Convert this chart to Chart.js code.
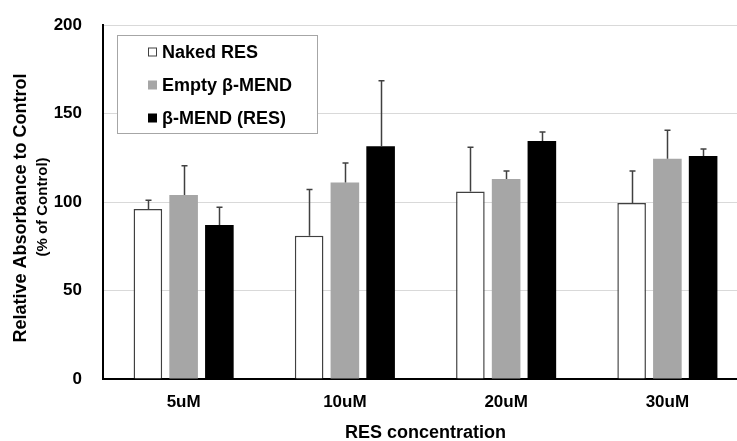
<!DOCTYPE html>
<html>
<head>
<meta charset="utf-8">
<script src="https://cdn.jsdelivr.net/npm/chart.js@4"></script>
<style>
  html, body { margin: 0; padding: 0; background: #fff; overflow: hidden; }
  #wrap { width: 737px; height: 441px; overflow: hidden; position: relative; }
  #box { width: 750px; height: 441px; position: absolute; left: 0; top: 0; }
</style>
</head>
<body>
<div id="wrap"><div id="box"><canvas id="chart"></canvas></div></div>
<script>
const categories = ["5uM", "10uM", "20uM", "30uM"];
const seriesNames = ["Naked RES", "Empty \u03b2-MEND", "\u03b2-MEND (RES)"];
const nakedRes = [96, 81, 106, 99.5];
const nakedResErr = [5, 26, 25, 18];
const emptyMend = [104, 111, 113, 124.5];
const emptyMendErr = [16.5, 11, 4.5, 16];
const mendRes = [87, 131.5, 134.5, 126];
const mendResErr = [10, 37, 5, 4];
const yTicks = [0, 50, 100, 150, 200];

const FONT = "'Liberation Sans', Arial, sans-serif";

// error bars on top of each bar (upper side only)
const errorBars = {
  id: "errorBars",
  afterDatasetsDraw(chart) {
    const ctx = chart.ctx;
    const y = chart.scales.y;
    ctx.save();
    ctx.strokeStyle = "#404040";
    ctx.lineWidth = 1.5;
    chart.data.datasets.forEach((ds, i) => {
      const meta = chart.getDatasetMeta(i);
      meta.data.forEach((bar, j) => {
        const top = y.getPixelForValue(ds.data[j] + ds.errors[j]);
        const x = Math.round(bar.x) + 0.5;
        ctx.beginPath();
        ctx.moveTo(x, bar.y);
        ctx.lineTo(x, top);
        ctx.moveTo(x - 3, top);
        ctx.lineTo(x + 3, top);
        ctx.stroke();
      });
    });
    ctx.restore();
  }
};

// titles and the boxed legend inside the plot
const decorations = {
  id: "decorations",
  afterDraw(chart) {
    const ctx = chart.ctx;
    const area = chart.chartArea;
    ctx.save();
    ctx.fillStyle = "#000";
    ctx.textAlign = "center";
    ctx.textBaseline = "middle";

    ctx.font = "bold 18px " + FONT;
    ctx.fillText("RES concentration", (area.left + area.right) / 2, 433);

    ctx.save();
    ctx.translate(21, 208);
    ctx.rotate(-Math.PI / 2);
    ctx.fillText("Relative Absorbance to Control", 0, 0);
    ctx.restore();
    ctx.save();
    ctx.translate(43, 207);
    ctx.rotate(-Math.PI / 2);
    ctx.font = "bold 15px " + FONT;
    ctx.fillText("(% of Control)", 0, 0);
    ctx.restore();

    // legend box
    ctx.fillStyle = "#fff";
    ctx.fillRect(117.5, 35.5, 200, 98);
    ctx.strokeStyle = "#a6a6a6";
    ctx.lineWidth = 1;
    ctx.strokeRect(117.5, 35.5, 200, 98);
    ctx.textAlign = "left";
    ctx.font = "bold 18px " + FONT;
    chart.data.datasets.forEach((ds, i) => {
      const cy = 52 + i * 33;
      ctx.fillStyle = ds.backgroundColor;
      ctx.fillRect(148, cy - 4.5, 9, 9);
      if (i === 0) {
        ctx.strokeStyle = "#404040";
        ctx.strokeRect(148.5, cy - 4, 8, 8);
      }
      ctx.fillStyle = "#000";
      ctx.fillText(ds.label, 162, cy + 1);
    });
    ctx.restore();
  }
};

new Chart(document.getElementById("chart"), {
  type: "bar",
  data: {
    labels: categories,
    datasets: [
      { label: seriesNames[0], data: nakedRes, errors: nakedResErr, backgroundColor: "#ffffff", borderColor: "#404040", borderWidth: 1.5 },
      { label: seriesNames[1], data: emptyMend, errors: emptyMendErr, backgroundColor: "#a6a6a6", borderWidth: 0 },
      { label: seriesNames[2], data: mendRes, errors: mendResErr, backgroundColor: "#000000", borderWidth: 0 }
    ]
  },
  options: {
    responsive: true,
    maintainAspectRatio: false,
    animation: false,
    categoryPercentage: 0.665,
    barPercentage: 0.8,
    layout: { padding: { top: 25, right: 2, bottom: 0, left: 0 } },
    plugins: { legend: { display: false }, tooltip: { enabled: false } },
    scales: {
      x: {
        grid: { display: false, drawTicks: false },
        border: { color: "#000", width: 2 },
        ticks: { color: "#000", padding: 13, font: { family: FONT, size: 17, weight: "bold" } },
        afterFit: (s) => { s.height = 62; }
      },
      y: {
        min: 0,
        max: 200,
        afterBuildTicks: (s) => { s.ticks = yTicks.map(v => ({ value: v })); },
        grid: { color: "#d9d9d9", lineWidth: 1, drawTicks: false },
        border: { color: "#000", width: 2 },
        ticks: { color: "#000", padding: 21, font: { family: FONT, size: 17, weight: "bold" } },
        afterFit: (s) => { s.width = 103; s.paddingTop = 0; s.paddingBottom = 0; }
      }
    }
  },
  plugins: [errorBars, decorations]
});
</script>
</body>
</html>
